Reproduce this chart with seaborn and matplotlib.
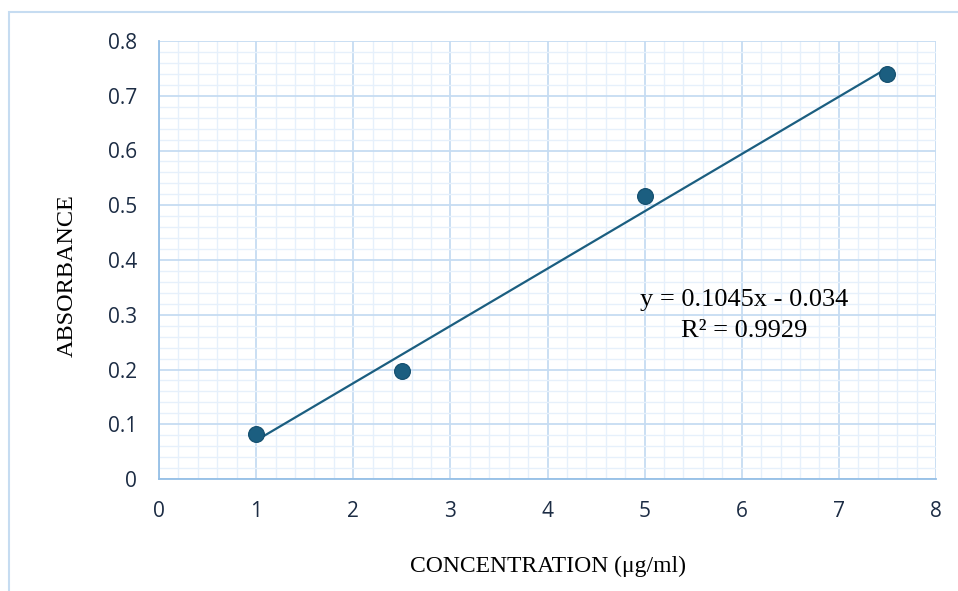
import matplotlib.pyplot as plt
import matplotlib.patches as mpatches
import numpy as np
import pandas as pd
import seaborn as sns
from matplotlib.ticker import MultipleLocator

# Calibration data
concentration = [1, 2.5, 5, 7.5]
absorbance = [0.082, 0.198, 0.517, 0.740]
x_ticks = [0, 1, 2, 3, 4, 5, 6, 7, 8]
y_ticks = [0, 0.1, 0.2, 0.3, 0.4, 0.5, 0.6, 0.7, 0.8]
y_tick_labels = ["0", "0.1", "0.2", "0.3", "0.4", "0.5", "0.6", "0.7", "0.8"]

df = pd.DataFrame({"conc": concentration, "abs": absorbance})

sns.set_style("white")
plt.rcParams['font.family'] = ['Open Sans', 'DejaVu Sans']

point_color = "#1b5e80"
major_grid = "#c6dcf2"
minor_grid = "#e6f0fb"
spine_color = "#95bfe6"
tick_text = "#1c2c44"
serif = ["Liberation Serif", "DejaVu Serif"]

fig = plt.figure(figsize=(9.58, 5.91), dpi=100)
ax = fig.add_axes([159 / 958, 112 / 591, 777 / 958, 438 / 591])

# Outer chart border (cut off at right/bottom)
fig.patches.append(mpatches.Rectangle((9 / 958, -0.1), 1.2, (579 / 591) + 0.1,
                                      transform=fig.transFigure, fill=False,
                                      edgecolor="#c6dcf1", linewidth=1.5, zorder=0))

# Trendline (linear fit) and points
sns.regplot(data=df, x="conc", y="abs", scatter=False, ci=None, ax=ax,
            line_kws={"color": point_color, "linewidth": 1.6, "zorder": 3})
sns.scatterplot(data=df, x="conc", y="abs", ax=ax, s=130, color=point_color,
                edgecolor="#124d6d", linewidth=0.8, zorder=4)

ax.set_xlim(0, 8)
ax.set_ylim(0, 0.8)
ax.set_xticks(x_ticks)
ax.set_yticks(y_ticks)
ax.set_yticklabels(y_tick_labels)
ax.xaxis.set_minor_locator(MultipleLocator(0.2))
ax.yaxis.set_minor_locator(MultipleLocator(0.02))

ax.grid(True, which="major", color=major_grid, linewidth=1.3, zorder=1)
ax.grid(True, which="minor", color=minor_grid, linewidth=1.0, zorder=0)
ax.set_axisbelow(True)

for side in ["top", "right"]:
    ax.spines[side].set_visible(False)
for side in ["left", "bottom"]:
    ax.spines[side].set_color(spine_color)
    ax.spines[side].set_linewidth(1.3)

ax.tick_params(axis="both", which="major", length=7, width=1.2, color=spine_color,
               labelsize=15, labelcolor=tick_text, pad=9)
ax.tick_params(axis="both", which="minor", length=0)

ax.set_xlabel("CONCENTRATION (μg/ml)", family=serif, fontsize=17, color="black",
              labelpad=24)
ax.set_ylabel("ABSORBANCE", family=serif, fontsize=17.5, color="black")
ax.yaxis.set_label_coords(-0.104, 0.4635)

ax.text(6.02, 0.299, "y = 0.1045x - 0.034\nR² = 0.9929", ha="center", va="center",
        family=serif, fontsize=19, color="black", linespacing=1.5)

fig.savefig("out.png", dpi=100)
